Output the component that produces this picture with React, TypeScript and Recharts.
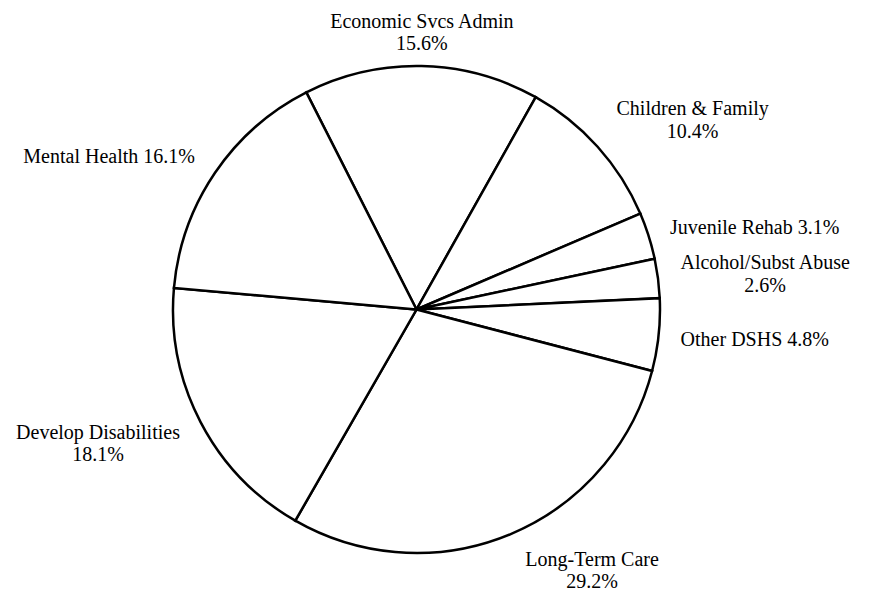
import type { PieLabelRenderProps } from "recharts";
import { Pie, PieChart } from "recharts";

const CATEGORIES = [
  "Economic Svcs Admin",
  "Children & Family",
  "Juvenile Rehab",
  "Alcohol/Subst Abuse",
  "Other DSHS",
  "Long-Term Care",
  "Develop Disabilities",
  "Mental Health",
];
const SHARES = [15.6, 10.4, 3.1, 2.6, 4.8, 29.2, 18.1, 16.1];

const data = CATEGORIES.map((name, i) => ({ name, value: SHARES[i] }));

const RADIAN = Math.PI / 180;
const FONT = '"Liberation Serif", "Times New Roman", serif';
const FONT_SIZE = 20;
const LINE_HEIGHT = 22.5;
const MAX_LINE = 185;

let ctx: CanvasRenderingContext2D | null = null;
const textWidth = (s: string) => {
  if (!ctx) ctx = document.createElement("canvas").getContext("2d");
  if (!ctx) return s.length * 9;
  ctx.font = `${FONT_SIZE}px ${FONT}`;
  return ctx.measureText(s).width;
};

// excel-ish "outside end" placement: box hangs off a point just past the rim
const renderLabel = (props: PieLabelRenderProps) => {
  const { cx, cy, midAngle, outerRadius, name, value } = props;
  const ux = Math.cos(-(midAngle ?? 0) * RADIAN);
  const uy = Math.sin(-(midAngle ?? 0) * RADIAN);
  const r = Number(outerRadius) + 12;
  const ax = Number(cx) + r * ux;
  const ay = Number(cy) + r * uy;

  const pct = `${Number(value).toFixed(1)}%`;
  const full = `${name} ${pct}`;
  const lines = textWidth(full) > MAX_LINE ? [String(name), pct] : [full];
  const w = Math.max(...lines.map(textWidth));
  const h = lines.length * LINE_HEIGHT;

  let mx = ax;
  if (ux > 0.15) mx = ax + 10 + w / 2;
  else if (ux < -0.15) mx = ax - 10 - w / 2;
  const my = ay + (uy * h) / 2 + 10 * uy * Math.abs(ux) + 1.5;
  const top = my - h / 2;

  return (
    <text
      x={mx}
      y={top}
      textAnchor="middle"
      fill="#000"
      fontFamily={FONT}
      fontSize={FONT_SIZE}
    >
      {lines.map((line, i) => (
        <tspan key={i} x={mx} y={top + 17.5 + i * LINE_HEIGHT}>
          {line}
        </tspan>
      ))}
    </text>
  );
};

export default function App() {
  return (
    <div style={{ position: "fixed", left: 0, top: 0, background: "#fff" }}>
      <PieChart
        width={870}
        height={595}
        margin={{ top: 0, right: 0, bottom: 0, left: 0 }}
      >
        <Pie
          data={data}
          dataKey="value"
          nameKey="name"
          cx={416.5}
          cy={309.5}
          outerRadius={243.5}
          startAngle={116.9}
          endAngle={-243.1}
          fill="#fff"
          stroke="#000"
          strokeWidth={2.5}
          labelLine={false}
          label={renderLabel}
          isAnimationActive={false}
        />
      </PieChart>
    </div>
  );
}
